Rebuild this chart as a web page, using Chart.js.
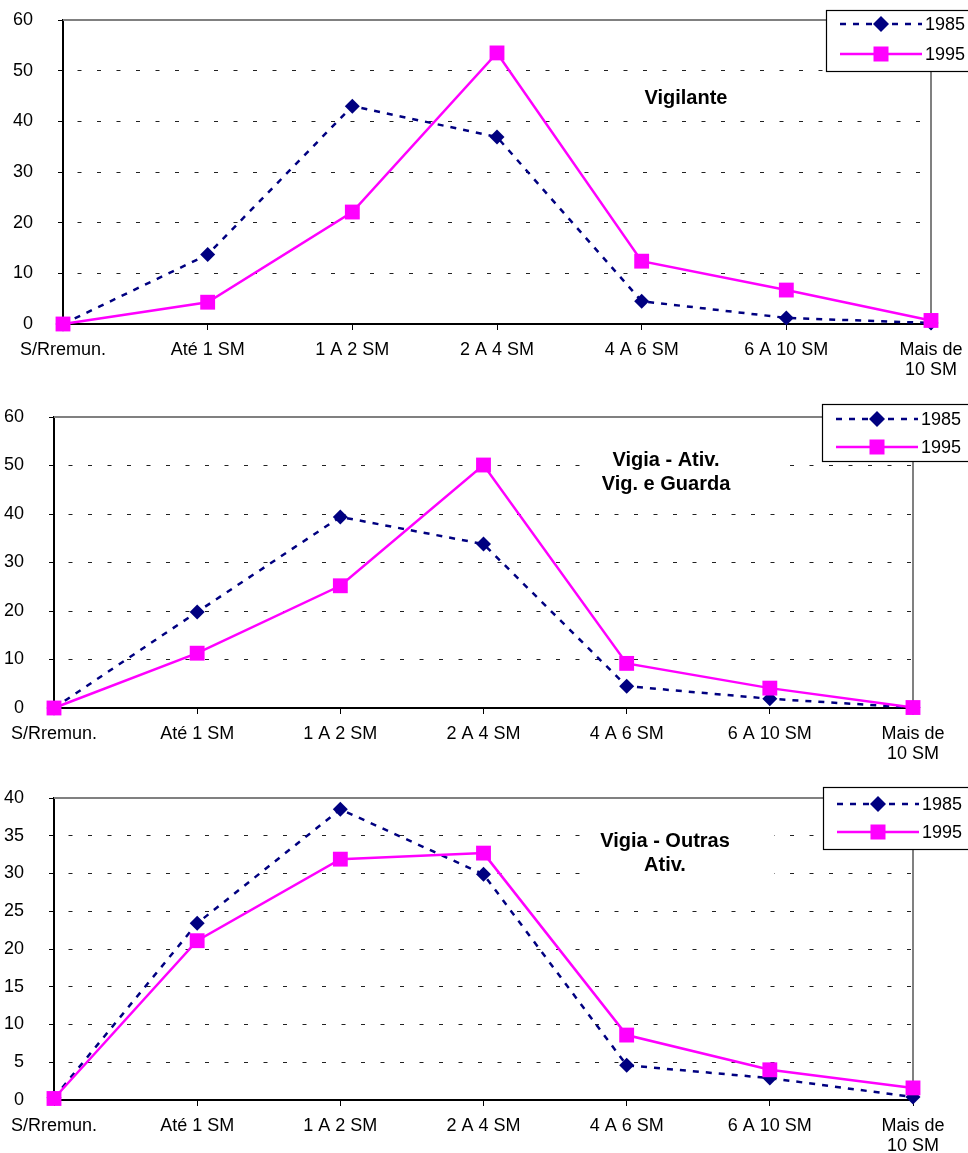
<!DOCTYPE html>
<html>
<head>
<meta charset="utf-8">
<title>Distribuição por faixa salarial</title>
<script src="https://cdn.jsdelivr.net/npm/chart.js@4/dist/chart.umd.min.js"></script>
<style>
  body { margin: 0; background: #fff; }
  canvas { position: absolute; left: 0; }
</style>
</head>
<body>
<canvas id="c1" width="968" height="385" style="top:0px"></canvas>
<canvas id="c2" width="968" height="385" style="top:385px"></canvas>
<canvas id="c3" width="968" height="383" style="top:770px"></canvas>
<script>
const categories = ["S/Rremun.", "Até 1 SM", "1 A 2 SM", "2 A 4 SM", "4 A 6 SM", "6 A 10 SM", ["Mais de", "10 SM"]];
const years = ["1985", "1995"];

// Vigilante
const vigilante1985 = [0, 13.7, 43.0, 36.9, 4.5, 1.2, 0.2];
const vigilante1995 = [0, 4.3, 22.1, 53.5, 12.4, 6.7, 0.7];

// Vigia - Ativ. Vig. e Guarda
const ativ1985 = [0, 19.8, 39.4, 33.8, 4.5, 1.9, 0.1];
const ativ1995 = [0, 11.3, 25.2, 50.1, 9.2, 4.1, 0.1];

// Vigia - Outras Ativ.
const outras1985 = [0.3, 23.4, 38.5, 29.9, 4.6, 2.9, 0.4];
const outras1995 = [0.2, 21.1, 31.9, 32.7, 8.6, 4.0, 1.6];

const FONT = '"Liberation Sans", Arial, sans-serif';
const NAVY = "#000080";
const MAGENTA = "#FF00FF";

// draws the gray frame + title behind the lines, legend box on top
const framePlugin = {
  id: "frame",
  beforeDatasetsDraw(chart, args, opts) {
    const { ctx, chartArea: a } = chart;
    ctx.save();
    ctx.strokeStyle = "#808080";
    ctx.lineWidth = 2;
    ctx.beginPath();
    ctx.moveTo(a.left, a.top);
    ctx.lineTo(a.right, a.top);
    ctx.lineTo(a.right, a.bottom);
    ctx.stroke();

    // title text box hides the gridlines behind it
    const n = opts.title.length;
    ctx.fillStyle = "#fff";
    ctx.fillRect(opts.titleX - 76, opts.titleY - 17, 185, (n - 1) * 24 + 34);

    ctx.fillStyle = "#000";
    ctx.font = "bold 20px " + FONT;
    ctx.textAlign = "center";
    ctx.textBaseline = "middle";
    opts.title.forEach((line, i) => {
      ctx.fillText(line, opts.titleX, opts.titleY + i * 24);
    });
    ctx.restore();
  },
  afterDraw(chart, args, opts) {
    const { ctx } = chart;
    const lg = opts.legend;
    ctx.save();
    ctx.fillStyle = "#fff";
    ctx.fillRect(lg.x, lg.top, chart.width - lg.x + 10, lg.bottom - lg.top);
    ctx.strokeStyle = "#000";
    ctx.lineWidth = 1.2;
    ctx.strokeRect(lg.x + 0.5, lg.top + 0.5, chart.width - lg.x + 10, lg.bottom - lg.top);

    // 1985 entry
    ctx.strokeStyle = NAVY;
    ctx.lineWidth = 2.5;
    ctx.setLineDash([6, 7]);
    ctx.beginPath();
    ctx.moveTo(lg.x + 14, lg.rows[0]);
    ctx.lineTo(lg.x + 96, lg.rows[0]);
    ctx.stroke();
    ctx.setLineDash([]);
    const mx = lg.x + 55;
    ctx.fillStyle = NAVY;
    ctx.beginPath();
    ctx.moveTo(mx, lg.rows[0] - 8);
    ctx.lineTo(mx + 8, lg.rows[0]);
    ctx.lineTo(mx, lg.rows[0] + 8);
    ctx.lineTo(mx - 8, lg.rows[0]);
    ctx.closePath();
    ctx.fill();

    // 1995 entry
    ctx.strokeStyle = MAGENTA;
    ctx.beginPath();
    ctx.moveTo(lg.x + 14, lg.rows[1]);
    ctx.lineTo(lg.x + 96, lg.rows[1]);
    ctx.stroke();
    ctx.fillStyle = MAGENTA;
    ctx.fillRect(mx - 7.5, lg.rows[1] - 7.5, 15, 15);

    ctx.fillStyle = "#000";
    ctx.font = "18px " + FONT;
    ctx.textAlign = "left";
    ctx.textBaseline = "middle";
    ctx.fillText(years[0], lg.x + 99, lg.rows[0] + 1);
    ctx.fillText(years[1], lg.x + 99, lg.rows[1] + 1);
    ctx.restore();
  },
};

function makeChart(id, d1985, d1995, box, yMax, yStep, title, titleX, titleY, legend) {
  const canvas = document.getElementById(id);
  const H = canvas.height;
  const W = canvas.width;
  return new Chart(canvas, {
    type: "line",
    data: {
      labels: categories,
      datasets: [
        {
          label: years[0],
          data: d1985,
          order: 1,
          borderColor: NAVY,
          backgroundColor: NAVY,
          borderWidth: 2.5,
          borderDash: [6, 7],
          pointStyle: "rectRot",
          pointRadius: 7.5,
          pointBorderWidth: 0,
          tension: 0,
          clip: false,
        },
        {
          label: years[1],
          data: d1995,
          order: 0,
          borderColor: MAGENTA,
          backgroundColor: MAGENTA,
          borderWidth: 2.5,
          pointStyle: "rect",
          pointRadius: 10.5,
          pointBorderWidth: 0,
          tension: 0,
          clip: false,
        },
      ],
    },
    options: {
      responsive: false,
      animation: false,
      layout: { padding: { top: box.top, right: W - box.right, left: 0, bottom: 0 } },
      plugins: {
        legend: { display: false },
        tooltip: { enabled: false },
        frame: { title, titleX, titleY, legend },
      },
      scales: {
        x: {
          offset: false,
          grid: {
            display: true,
            drawOnChartArea: false,
            drawTicks: true,
            tickLength: 6,
            tickColor: "#000",
            color: "#000",
            tickBorderDash: [],
          },
          border: { display: true, color: "#000", width: 2 },
          ticks: {
            color: "#000",
            font: { family: FONT, size: 18, lineHeight: 1.12 },
            padding: 10,
            maxRotation: 0,
            autoSkip: false,
          },
          afterFit(s) {
            s.height = H - box.bottom;
            s.paddingLeft = 0;
            s.paddingRight = 0;
          },
        },
        y: {
          min: 0,
          max: yMax,
          ticks: {
            stepSize: yStep,
            color: "#000",
            font: { family: FONT, size: 18 },
            padding: 25,
          },
          grid: {
            color: (c) => (c.tick && (c.tick.value === 0 || c.tick.value === yMax)) ? "rgba(0,0,0,0)" : "#222",
            lineWidth: 1,
            tickLength: 5,
            tickColor: "#000",
            tickBorderDash: [],
          },
          border: { display: true, color: "#000", width: 2, dash: [4, 15.5], dashOffset: 6 },
          afterFit(s) {
            s.width = box.left;
            s.paddingTop = 0;
            s.paddingBottom = 0;
          },
        },
      },
    },
    plugins: [framePlugin],
  });
}

makeChart("c1", vigilante1985, vigilante1995,
  { left: 63, right: 931, top: 20, bottom: 324 }, 60, 10,
  ["Vigilante"], 686, 98,
  { x: 826, top: 10, bottom: 71, rows: [24, 54] });

makeChart("c2", ativ1985, ativ1995,
  { left: 54, right: 913, top: 32, bottom: 323 }, 60, 10,
  ["Vigia - Ativ.", "Vig. e Guarda"], 666, 75,
  { x: 822, top: 19, bottom: 76, rows: [34, 62] });

makeChart("c3", outras1985, outras1995,
  { left: 54, right: 913, top: 28, bottom: 330 }, 40, 5,
  ["Vigia - Outras", "Ativ."], 665, 71,
  { x: 823, top: 17, bottom: 79, rows: [34, 62] });
</script>
</body>
</html>
